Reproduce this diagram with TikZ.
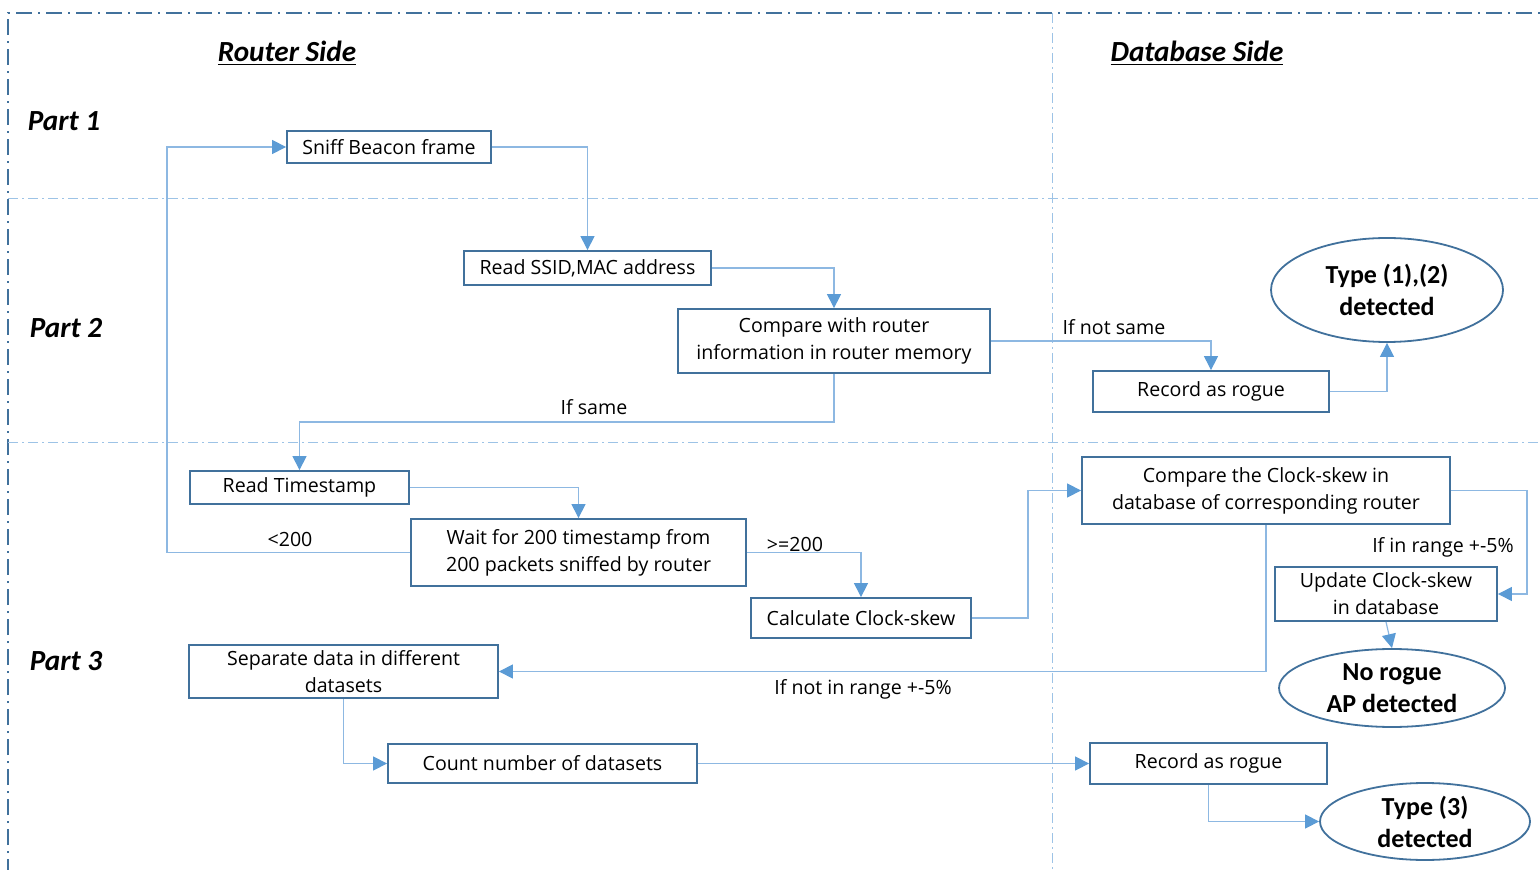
\documentclass[tikz,border=0pt]{standalone}
\usepackage{fontspec}
\setmainfont{Carlito}
\newfontfamily\boxfont{Open Sans}
\usetikzlibrary{arrows.meta,shapes.geometric}
\definecolor{boxc}{HTML}{41719C}
\definecolor{linec}{HTML}{8DB8E2}
\definecolor{arrc}{HTML}{5B9BD5}
\definecolor{sepc}{HTML}{9DC3E6}
\tikzset{
  stepbox/.style={draw=boxc, line width=0.9pt, fill=white, inner sep=0pt, align=center, font=\boxfont\fontsize{9.8}{13.5}\selectfont},
  endell/.style={ellipse, draw=boxc, line width=0.9pt, fill=white, inner sep=0pt, align=center, font=\fontsize{13}{16}\selectfont\bfseries},
  conn/.style={draw=linec, line width=0.6pt, -{Triangle[length=7pt,width=7pt,color=arrc]}},
  lbl/.style={font=\boxfont\fontsize{9.8}{12}\selectfont, inner sep=0pt},
  parttitle/.style={font=\fontsize{14.6}{17}\selectfont\bfseries\itshape, inner sep=0pt},
  sidetitle/.style={font=\fontsize{14.6}{17}\selectfont\bfseries\itshape, inner sep=0pt},
}
\begin{document}
\begin{tikzpicture}[x=0.5pt,y=-0.5pt]
\useasboundingbox (0,0) rectangle (1540,870);
% frame and separators
\draw[boxc, line width=0.8pt, dash pattern=on 8pt off 3pt on 1pt off 3pt] (8,875) -- (8,13) -- (1545,13);
\draw[sepc, line width=0.5pt, dash pattern=on 5pt off 2pt on 1pt off 2pt] (8,199) -- (1545,199);
\draw[sepc, line width=0.5pt, dash pattern=on 5pt off 2pt on 1pt off 2pt] (8,443) -- (1545,443);
\draw[sepc, line width=0.5pt, dash pattern=on 5pt off 2pt on 1pt off 2pt] (1052,13) -- (1052,875);
% titles
\node[sidetitle] (rs) at (287,53) {\underline{Router Side}};
\node[sidetitle] (ds) at (1197,53) {\underline{Database Side}};
\node[parttitle] (p1) at (64,121) {Part 1};
\node[parttitle] (p2) at (66,328) {Part 2};
\node[parttitle] (p3) at (66,661) {Part 3};
% boxes
\node[stepbox, minimum width=102pt, minimum height=16pt] (sniff) at (389,147) {Sniff Beacon frame};
\node[stepbox, minimum width=123.5pt, minimum height=17pt] (ssid) at (587.5,268) {Read SSID,MAC address};
\node[stepbox, minimum width=156pt, minimum height=32pt] (cmp) at (834,341) {Compare with router\\information in router memory};
\node[stepbox, minimum width=118pt, minimum height=20.5pt] (rec1) at (1211,391.5) {Record as rogue};
\node[endell, minimum width=116pt, minimum height=52pt] (t12) at (1387,290) {Type (1),(2)\\detected};
\node[stepbox, minimum width=109.5pt, minimum height=16.5pt] (rts) at (299.5,487.5) {Read Timestamp};
\node[stepbox, minimum width=167.5pt, minimum height=33.5pt] (wait) at (578.5,552.5) {Wait for 200 timestamp from\\200 packets sniffed by router};
\node[stepbox, minimum width=110pt, minimum height=20pt] (calc) at (861,618) {Calculate Clock-skew};
\node[stepbox, minimum width=184pt, minimum height=33.5pt] (cmpcs) at (1266,490.5) {Compare the Clock-skew in\\database of corresponding router};
\node[stepbox, minimum width=111pt, minimum height=27pt] (upd) at (1386,594) {Update Clock-skew\\in database};
\node[endell, minimum width=113pt, minimum height=39pt] (norog) at (1392,688) {No rogue\\AP detected};
\node[stepbox, minimum width=154.5pt, minimum height=26.5pt] (sep) at (343.5,671.5) {Separate data in different\\datasets};
\node[stepbox, minimum width=154.5pt, minimum height=19.5pt] (count) at (542.5,763.5) {Count number of datasets};
\node[stepbox, minimum width=118.5pt, minimum height=20.5pt] (rec2) at (1208.5,763.5) {Record as rogue};
\node[endell, minimum width=105pt, minimum height=38.5pt] (t3) at (1425,821.5) {Type (3)\\detected};
% connectors
\draw[conn] (wait.west) -| (167,300) |- (sniff.west);
\draw[conn] (sniff.east) -| (ssid.north);
\draw[conn] (ssid.east) -| (cmp.north);
\draw[conn] (cmp.east) -| (rec1.north);
\draw[conn] (rec1.east) -| (t12.south);
\draw[conn] (cmp.south) -- (cmp.south |- 0,422) -| (rts.north);
\draw[conn] (rts.east) -| (wait.north);
\draw[conn] (wait.east) -| (calc.north);
\draw[conn] (calc.east) -- ++(56,0) |- (cmpcs.west);
\draw[conn] (cmpcs.east) -- ++(76,0) |- (upd.east);
\draw[conn] (upd.south) -- (norog.north);
\draw[conn] (cmpcs.south) |- (sep.east);
\draw[conn] (sep.south) |- (count.west);
\draw[conn] (count.east) -- (rec2.west);
\draw[conn] (rec2.south) |- (t3.west);
% labels
\node[lbl] (l1) at (290,539) {<200};
\node[lbl] (l2) at (1114,327) {If not same};
\node[lbl] (l3) at (594,407) {If same};
\node[lbl] (l4) at (795,544) {>=200};
\node[lbl] (l5) at (1443,547) {If in range +-5\%};
\node[lbl] (l6) at (863,689) {If not in range +-5\%};
\end{tikzpicture}
\end{document}
